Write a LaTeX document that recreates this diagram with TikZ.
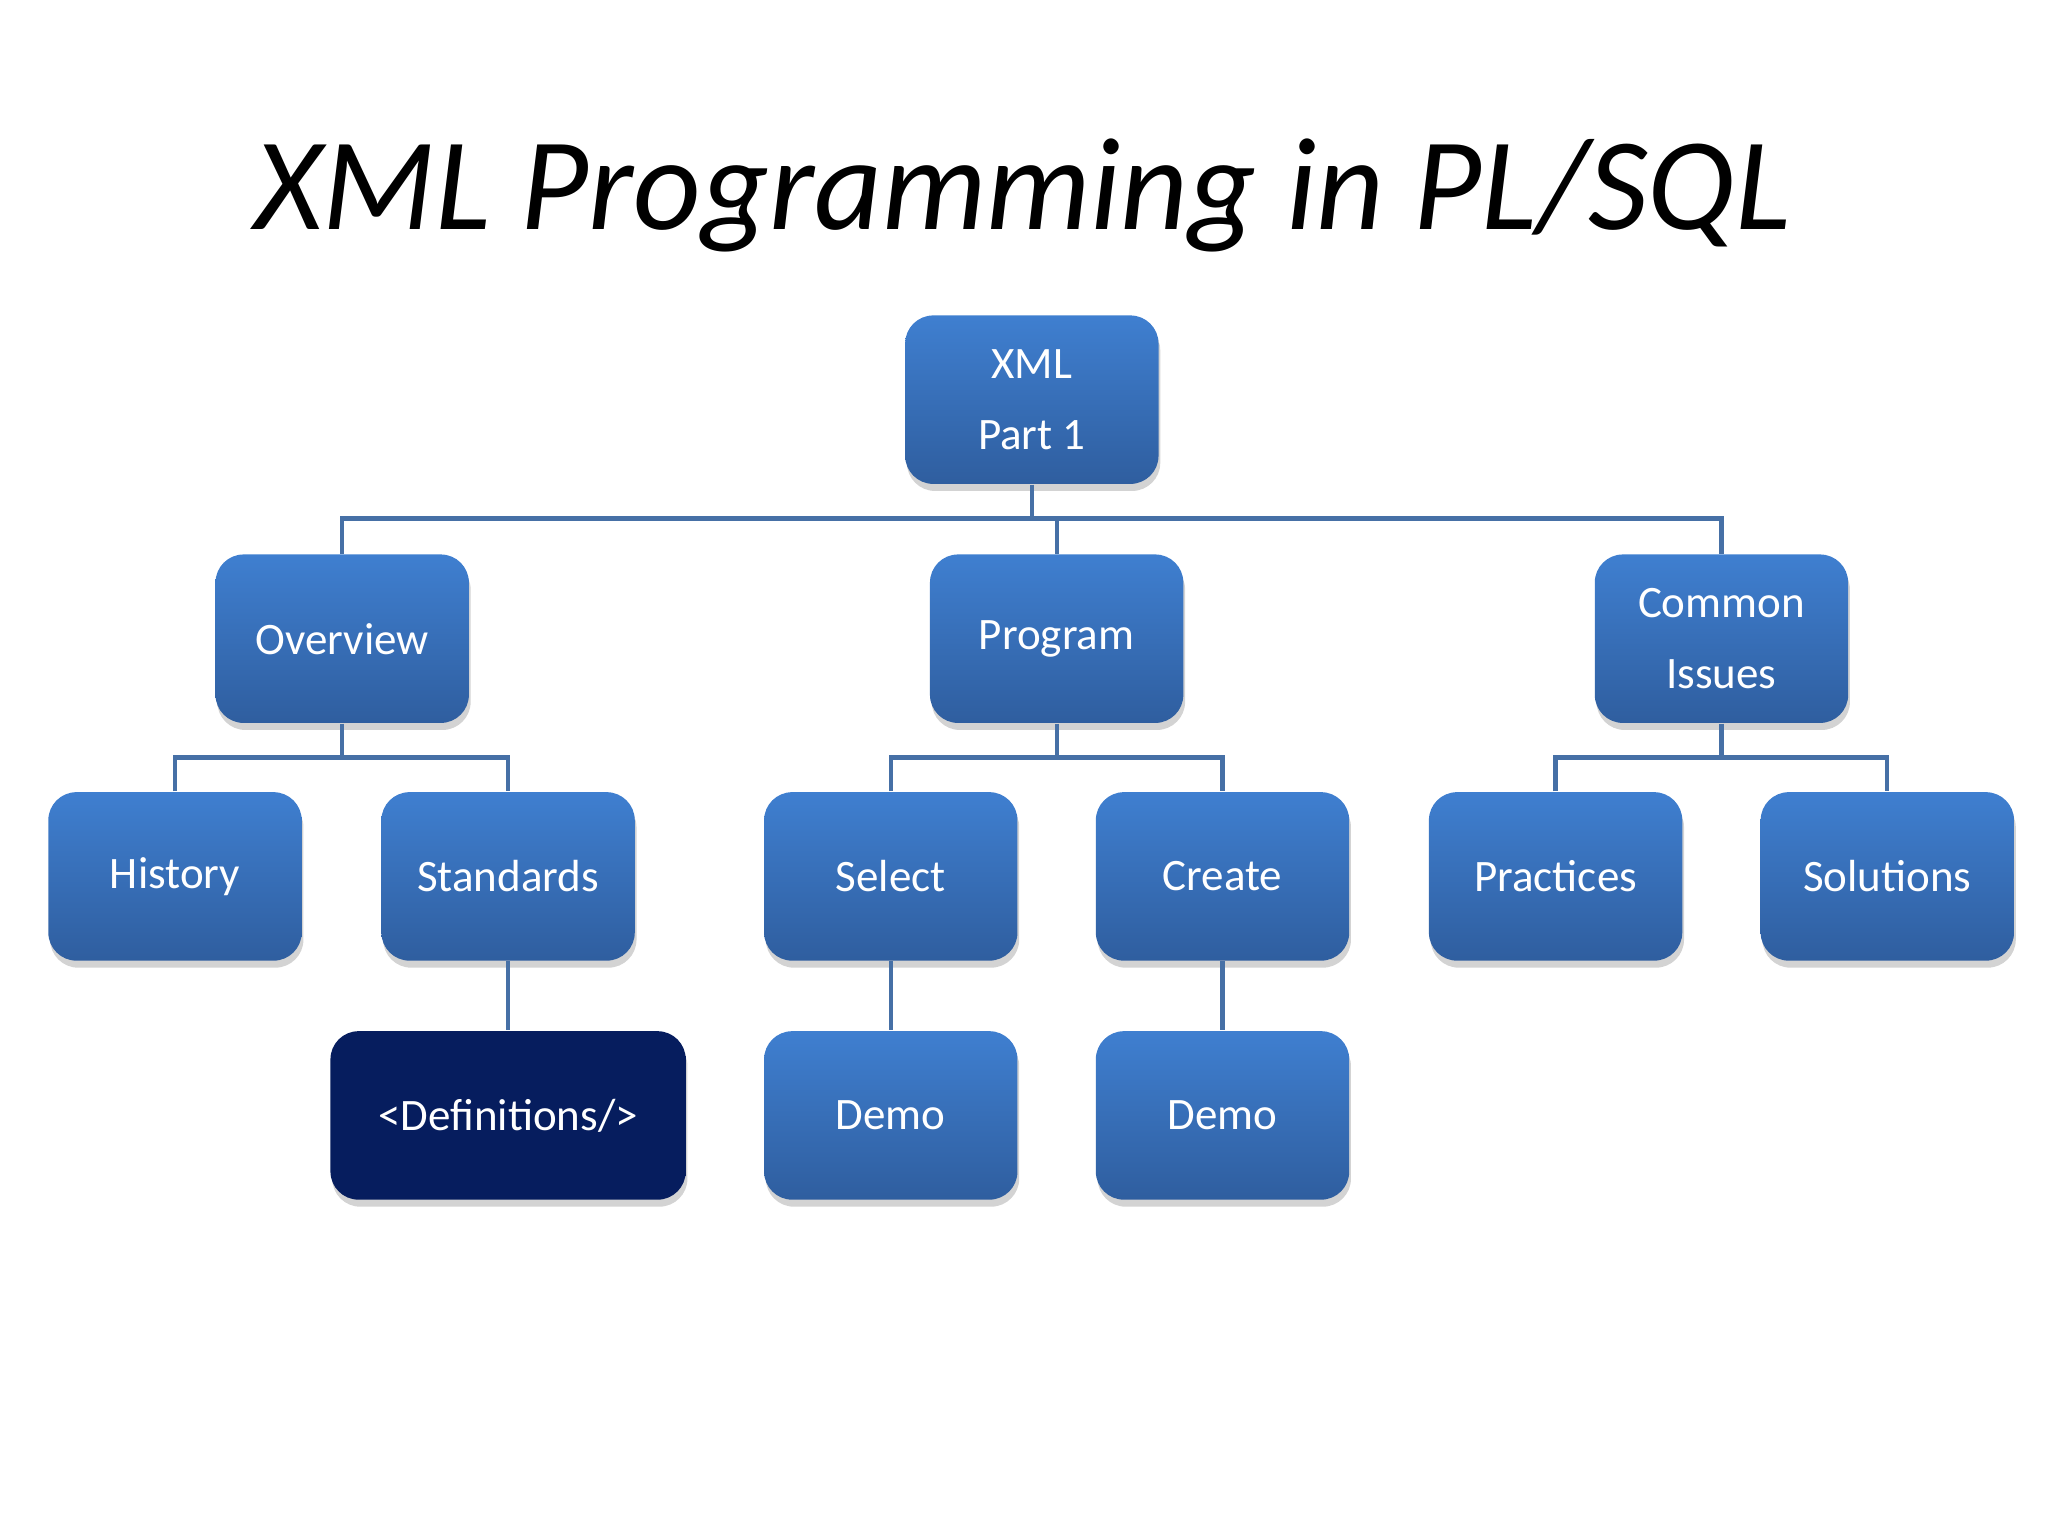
\documentclass[tikz,border=0pt]{standalone}
\usepackage{fontspec}
\setmainfont{Carlito}
\usetikzlibrary{shadows}
\definecolor{btop}{HTML}{3F7FD0}
\definecolor{bbot}{HTML}{2F5E9F}
\definecolor{dark}{HTML}{061D5E}
\definecolor{ln}{HTML}{4670A6}
\begin{document}
\begin{tikzpicture}[x=0.013061cm,y=-0.013061cm,
 box/.style={draw=none,rounded corners=8,minimum width=194*0.013061cm,minimum height=129*0.013061cm,
  top color=btop,bottom color=bbot,text=white,font=\fontsize{12.8}{20}\selectfont,align=center,
  drop shadow={shadow xshift=0.5pt,shadow yshift=-2pt,opacity=0.35}},
 dbox/.style={box,top color=dark,bottom color=dark,minimum width=272*0.013061cm},
 con/.style={draw=ln,line width=1.2pt}]
\useasboundingbox (0,0) rectangle (1568,1176);
\node[font=\itshape\fontsize{37.5}{40}\selectfont] (title) at (783,150) {XML Programming in PL/SQL};
\node[box] (xml) at (790,306) {XML\\Part 1};
\node[box] (ov) at (262,489) {Overview};
\node[box] (pr) at (809,489) {Program};
\node[box] (ci) at (1318,489) {Common\\Issues};
\node[box] (hi) at (134,671) {History};
\node[box] (st) at (389,671) {Standards};
\node[box] (se) at (682,671) {Select};
\node[box] (cr) at (936,671) {Create};
\node[box] (pa) at (1191,671) {Practices};
\node[box] (so) at (1445,671) {Solutions};
\node[dbox] (de) at (389,854) {<Definitions/>};
\node[box] (d1) at (682,854) {Demo};
\node[box] (d2) at (936,854) {Demo};
\coordinate (b1) at (790,397);
\coordinate (b2) at (262,580);
\coordinate (b3) at (809,580);
\coordinate (b4) at (1318,580);
\begin{scope}[on background layer/.style={}]
\draw[con] (xml.south) -- (b1);
\draw[con] (ov.north) |- (b1) -| (ci.north);
\draw[con] (b1) -| (pr.north);
\draw[con] (ov.south) -- (b2); \draw[con] (hi.north) |- (b2) -| (st.north);
\draw[con] (pr.south) -- (b3); \draw[con] (se.north) |- (b3) -| (cr.north);
\draw[con] (ci.south) -- (b4); \draw[con] (pa.north) |- (b4) -| (so.north);
\draw[con] (st.south) -- (de.north);
\draw[con] (se.south) -- (d1.north);
\draw[con] (cr.south) -- (d2.north);
\end{scope}
\end{tikzpicture}
\end{document}
